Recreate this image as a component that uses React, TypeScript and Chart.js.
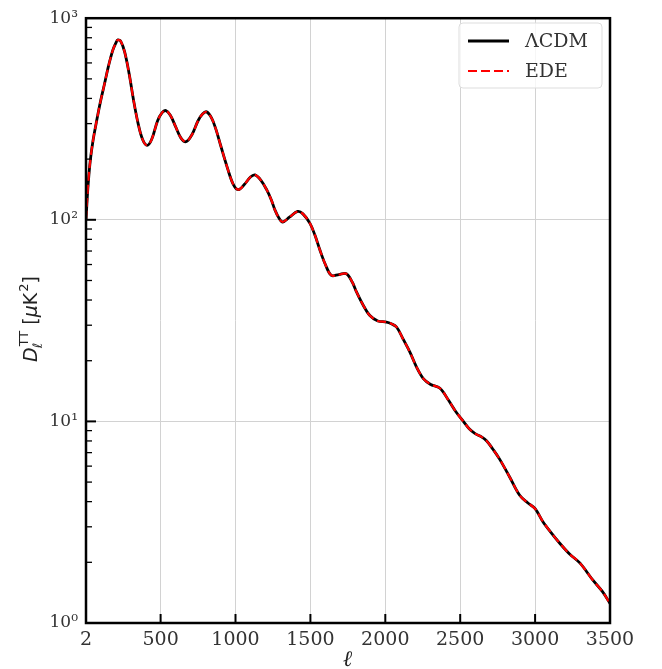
import React, { useEffect, useRef } from 'react';
import { Chart, registerables } from 'chart.js';

Chart.register(...registerables);

// multipole ell
const ELL = [2, 15, 30, 50, 75, 100, 125, 150, 180, 200, 215, 235, 260, 290, 320, 350, 380, 410, 440, 480, 510, 535, 565, 600, 635, 670, 710, 750, 780, 807, 840, 870, 900, 950, 985, 1019, 1060, 1100, 1130, 1170, 1208, 1240, 1263, 1290, 1315, 1360, 1415, 1450, 1497, 1530, 1563, 1600, 1640, 1690, 1740, 1780, 1807, 1850, 1897, 1950, 2008, 2040, 2075, 2120, 2165, 2210, 2254, 2300, 2365, 2420, 2470, 2521, 2560, 2600, 2640, 2677, 2717, 2763, 2830, 2897, 2950, 3000, 3050, 3100, 3166, 3230, 3300, 3386, 3450, 3500];

// D_ell^TT for LCDM [muK^2]
const LCDM_DL = [100, 145, 195, 250, 315, 390, 470, 570, 690, 750, 780, 765, 680, 530, 390, 300, 250, 234, 250, 310, 340, 348, 330, 290, 255, 244, 265, 310, 335, 343, 320, 280, 235, 177, 150, 141, 150, 163, 167, 157, 141, 125, 112, 102, 97.5, 103, 110, 107, 96, 84, 71, 60, 53, 53.5, 54, 49, 44, 38, 33.5, 31.5, 31.1, 30.5, 29.4, 25.5, 22, 18.5, 16.3, 15.3, 14.6, 12.8, 11.2, 10, 9.2, 8.7, 8.4, 8.0, 7.3, 6.5, 5.3, 4.3, 3.95, 3.69, 3.2, 2.85, 2.48, 2.2, 1.98, 1.63, 1.43, 1.25];

// D_ell^TT for EDE [muK^2]
const EDE_DL = [100, 145, 195, 250, 315, 390, 470, 570, 690, 750, 780, 765, 680, 530, 390, 300, 250, 234, 250, 310, 340, 348, 330, 290, 255, 244, 265, 310, 335, 343, 320, 280, 235, 177, 150, 141, 150, 163, 167, 157, 141, 125, 112, 102, 97.5, 103, 110, 107, 96, 84, 71, 60, 53, 53.5, 54, 49, 44, 38, 33.5, 31.5, 31.1, 30.5, 29.4, 25.5, 22, 18.5, 16.3, 15.3, 14.6, 12.8, 11.2, 10, 9.2, 8.7, 8.4, 8.0, 7.3, 6.5, 5.3, 4.3, 3.95, 3.69, 3.2, 2.85, 2.48, 2.2, 1.98, 1.63, 1.43, 1.25];

const SERIES_LABELS = ['ΛCDM', 'EDE'];
const X_TICKS = [2, 500, 1000, 1500, 2000, 2500, 3000, 3500];
const Y_DECADES = [1, 10, 100, 1000];
const Y_DECADE_LABELS = ['10⁰', '10¹', '10²', '10³'];
const X_TITLE = 'ℓ';

const W = 662;
const H = 669;
const TEXT = '#333333';
const SERIF = '"DejaVu Serif", serif';
const SANS = '"DejaVu Sans", sans-serif';

function yTickValues(): number[] {
  const out: number[] = [];
  for (let d = 0; d < Y_DECADES.length - 1; d++) {
    for (let m = 1; m <= 9; m++) out.push(Y_DECADES[d] * m);
  }
  out.push(Y_DECADES[Y_DECADES.length - 1]);
  return out;
}

function drawYTitle(ctx: CanvasRenderingContext2D, cx: number, cy: number) {
  const mainIt = `italic 19px ${SANS}`;
  const main = `19px ${SANS}`;
  const small = `13px ${SANS}`;
  const smallIt = `italic 13px ${SANS}`;
  ctx.save();
  ctx.translate(cx, cy);
  ctx.rotate(-Math.PI / 2);
  ctx.fillStyle = '#222';
  ctx.textBaseline = 'alphabetic';
  ctx.textAlign = 'left';
  const w = (t: string, f: string) => { ctx.font = f; return ctx.measureText(t).width; };
  const wD = w('D', mainIt);
  const wSub = w('ℓ', smallIt);
  const wSup = w('TT', small);
  const wScript = Math.max(wSub, wSup) + 1;
  const wOpen = w(' [', main);
  const wMu = w('μ', mainIt);
  const wK = w('K', main);
  const w2 = w('2', small);
  const wClose = w(']', main);
  const total = wD + wScript + wOpen + wMu + wK + w2 + 1 + wClose;
  let x = -total / 2;
  ctx.font = mainIt; ctx.fillText('D', x, 0); x += wD;
  ctx.font = smallIt; ctx.fillText('ℓ', x - 1, 5);
  ctx.font = small; ctx.fillText('TT', x + 1, -9);
  x += wScript;
  ctx.font = main; ctx.fillText(' [', x, 0); x += wOpen;
  ctx.font = mainIt; ctx.fillText('μ', x, 0); x += wMu;
  ctx.font = main; ctx.fillText('K', x, 0); x += wK;
  ctx.font = small; ctx.fillText('2', x + 1, -9); x += w2 + 1;
  ctx.font = main; ctx.fillText(']', x, 0);
  ctx.restore();
}

const decorPlugin = {
  id: 'decor',
  afterDatasetsDraw(chart: any) {
    const { ctx, chartArea: a, scales } = chart;
    const xs = scales.x;
    const ys = scales.y;
    ctx.save();
    ctx.strokeStyle = '#000';
    // inward x major ticks
    ctx.lineWidth = 2;
    X_TICKS.forEach((v) => {
      const px = xs.getPixelForValue(v);
      if (px <= a.left + 1 || px >= a.right - 1) return;
      ctx.beginPath();
      ctx.moveTo(px, a.bottom);
      ctx.lineTo(px, a.bottom - 9);
      ctx.stroke();
    });
    // inward y ticks (major + minor)
    yTickValues().forEach((v) => {
      const py = ys.getPixelForValue(v);
      if (py <= a.top + 1 || py >= a.bottom - 1) return;
      const major = Y_DECADES.includes(v);
      ctx.lineWidth = major ? 2 : 1.3;
      ctx.beginPath();
      ctx.moveTo(a.left, py);
      ctx.lineTo(a.left + (major ? 10 : 6), py);
      ctx.stroke();
    });
    // frame
    ctx.lineWidth = 2.5;
    ctx.strokeRect(a.left, a.top, a.right - a.left, a.bottom - a.top);

    // legend
    const bx = 459, by = 23, bw = 143, bh = 65, r = 4;
    ctx.beginPath();
    ctx.moveTo(bx + r, by);
    ctx.lineTo(bx + bw - r, by);
    ctx.quadraticCurveTo(bx + bw, by, bx + bw, by + r);
    ctx.lineTo(bx + bw, by + bh - r);
    ctx.quadraticCurveTo(bx + bw, by + bh, bx + bw - r, by + bh);
    ctx.lineTo(bx + r, by + bh);
    ctx.quadraticCurveTo(bx, by + bh, bx, by + bh - r);
    ctx.lineTo(bx, by + r);
    ctx.quadraticCurveTo(bx, by, bx + r, by);
    ctx.closePath();
    ctx.fillStyle = 'rgba(255,255,255,0.8)';
    ctx.fill();
    ctx.strokeStyle = '#dddddd';
    ctx.lineWidth = 1;
    ctx.stroke();
    const rows = [41, 71];
    chart.data.datasets.forEach((ds: any, i: number) => {
      const yy = rows[i];
      ctx.save();
      ctx.strokeStyle = ds.borderColor;
      ctx.lineWidth = ds.borderWidth;
      ctx.setLineDash(ds.borderDash || []);
      ctx.beginPath();
      ctx.moveTo(468, yy);
      ctx.lineTo(509, yy);
      ctx.stroke();
      ctx.restore();
      ctx.fillStyle = TEXT;
      ctx.font = `19px ${SERIF}`;
      ctx.textBaseline = 'middle';
      ctx.textAlign = 'left';
      ctx.fillText(ds.label, 525, yy + 1);
    });
    ctx.restore();
  },
  afterDraw(chart: any) {
    const { ctx, chartArea: a } = chart;
    ctx.save();
    ctx.fillStyle = '#222';
    ctx.font = `bold italic 22px ${SERIF}`;
    ctx.textAlign = 'center';
    ctx.textBaseline = 'alphabetic';
    ctx.fillText(X_TITLE, (a.left + a.right) / 2, 666);
    ctx.restore();
    drawYTitle(ctx, 37, 319);
  },
};

export default function App() {
  const ref = useRef<HTMLCanvasElement | null>(null);

  useEffect(() => {
    document.body.style.margin = '0';
    const canvas = ref.current;
    if (!canvas) return;
    const chart = new Chart(canvas, {
      type: 'line',
      data: {
        datasets: [
          {
            label: SERIES_LABELS[0],
            data: ELL.map((l, i) => ({ x: l, y: LCDM_DL[i] })),
            borderColor: '#000000',
            borderWidth: 2.8,
            pointRadius: 0,
            tension: 0.35,
            fill: false,
            order: 1,
          },
          {
            label: SERIES_LABELS[1],
            data: ELL.map((l, i) => ({ x: l, y: EDE_DL[i] })),
            borderColor: '#ff0000',
            borderWidth: 2.2,
            borderDash: [9, 4],
            pointRadius: 0,
            tension: 0.35,
            fill: false,
            order: 0,
          },
        ],
      },
      options: {
        animation: false,
        responsive: false,
        devicePixelRatio: 1,
        layout: { padding: { left: 0, top: 14, right: 52, bottom: 0 } },
        plugins: {
          legend: { display: false },
          tooltip: { enabled: false },
        },
        scales: {
          x: {
            type: 'linear',
            min: 2,
            max: 3500,
            afterBuildTicks: (scale: any) => {
              scale.ticks = X_TICKS.map((v) => ({ value: v }));
            },
            afterFit: (scale: any) => {
              scale.height = 46;
            },
            ticks: {
              autoSkip: false,
              maxRotation: 0,
              padding: 6,
              color: TEXT,
              font: { family: 'DejaVu Serif', size: 19 },
              callback: (v: any) => String(v),
            },
            grid: {
              drawTicks: false,
              lineWidth: 1,
              color: (c: any) => {
                const v = c.tick ? c.tick.value : null;
                return v !== null && v > 2 && v < 3500 ? '#d2d2d2' : 'rgba(0,0,0,0)';
              },
            },
            border: { display: false },
          },
          y: {
            type: 'logarithmic',
            min: 1,
            max: 1000,
            afterBuildTicks: (scale: any) => {
              scale.ticks = yTickValues().map((v) => ({ value: v }));
            },
            afterFit: (scale: any) => {
              scale.width = 86;
            },
            ticks: {
              autoSkip: false,
              padding: 8,
              color: TEXT,
              font: { family: 'DejaVu Serif', size: 17 },
              callback: (v: any) => {
                const idx = Y_DECADES.indexOf(Number(v));
                return idx >= 0 ? Y_DECADE_LABELS[idx] : '';
              },
            },
            grid: {
              drawTicks: false,
              lineWidth: 1,
              color: (c: any) => {
                const v = c.tick ? c.tick.value : null;
                return v === 10 || v === 100 ? '#d2d2d2' : 'rgba(0,0,0,0)';
              },
            },
            border: { display: false },
          },
        },
      },
      plugins: [decorPlugin],
    } as any);
    return () => chart.destroy();
  }, []);

  return (
    <div style={{ width: W, height: H, background: '#fff' }}>
      <canvas ref={ref} width={W} height={H} style={{ display: 'block' }} />
    </div>
  );
}
